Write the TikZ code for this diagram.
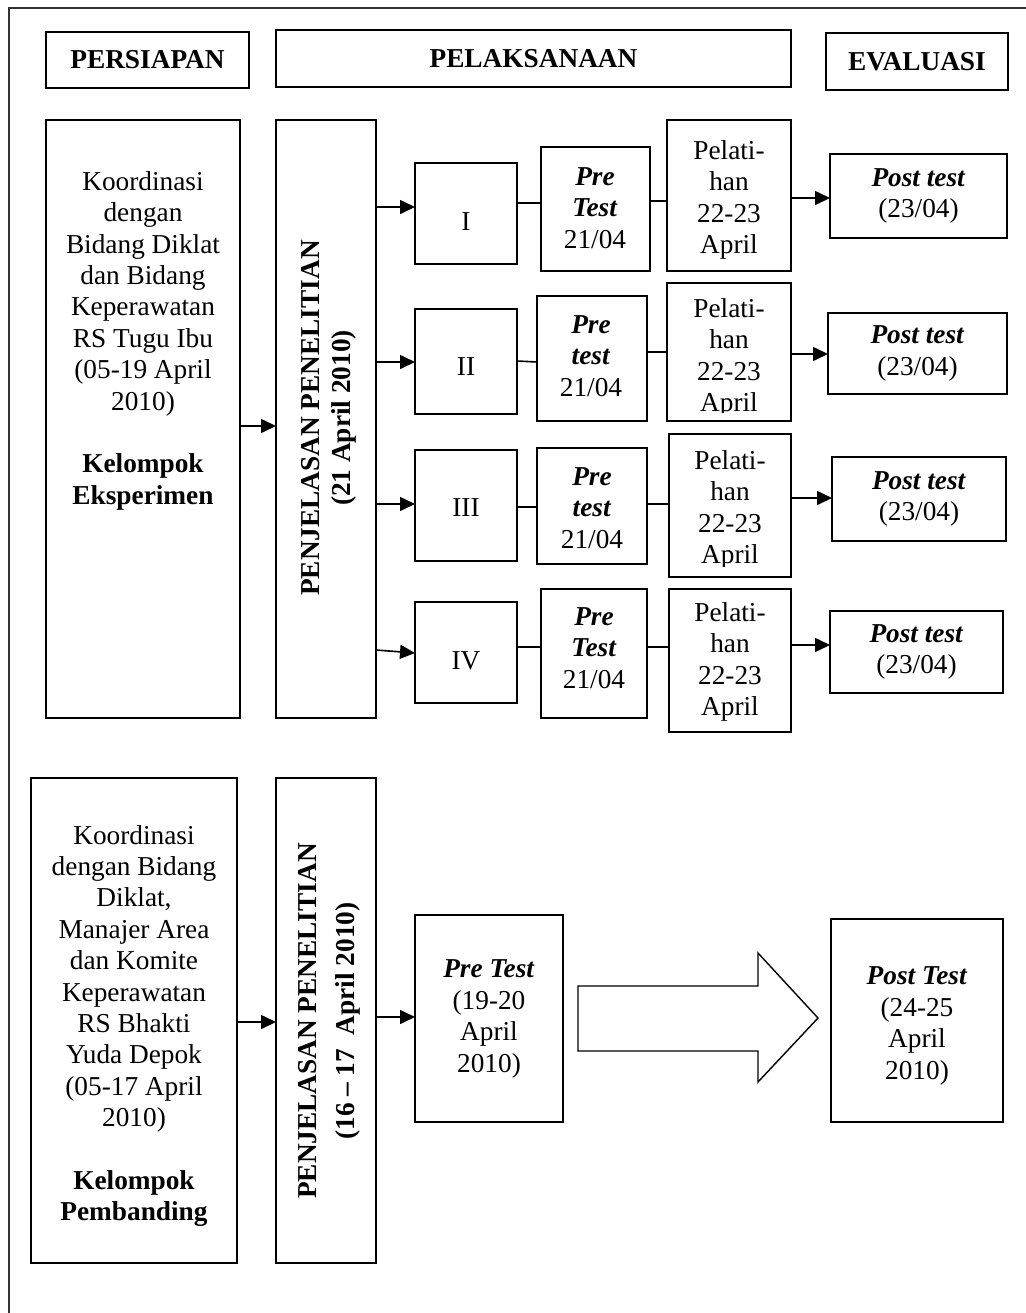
\documentclass[tikz,border=0pt]{standalone}
\usepackage{fontspec}
\setmainfont{Liberation Serif}
\usetikzlibrary{arrows.meta}
\newcommand\fs{\fontsize{13.65pt}{15.7pt}\selectfont}
\newcommand\bi[1]{\textbf{\textit{#1}}}
\newcommand\mkbox[6]{\node[box,minimum width={(#4-#2)*0.5pt},minimum height={(#5-#3)*0.5pt}] (#1) at ({(#2+#4)/2},{(#3+#5)/2}) {#6};}
\begin{document}
\begin{tikzpicture}[x=0.5pt,y=-0.5pt,
  box/.style={draw,line width=0.8pt,inner sep=0pt,outer sep=0pt,font=\fs,align=center},
  txt/.style={font=\fs,align=center,inner sep=0pt},
  arr/.style={line width=0.8pt,-{Triangle[length=7.5pt,width=7pt]}},
  ln/.style={line width=0.8pt}]
\useasboundingbox (0,0) rectangle (1026,1313);
% outer frame
\draw[line width=0.8pt,black!80] (9,1340) -- (9,8) -- (1050,8);
% headers
\mkbox{hp}{46}{32}{249}{88}{\bfseries PERSIAPAN}
\mkbox{hl}{276}{30}{791}{87}{\bfseries PELAKSANAAN}
\mkbox{he}{826}{33}{1008}{90}{\bfseries EVALUASI}
% ---------- top group ----------
\mkbox{k1}{46}{120}{240}{718}{}
\node[txt,anchor=north] (k1t) at (143,171) {Koordinasi\\dengan\\Bidang Diklat\\dan Bidang\\Keperawatan\\RS Tugu Ibu\\(05-19 April\\2010)\\[15.7pt]\textbf{Kelompok}\\\textbf{Eksperimen}};
\mkbox{pj1}{276}{120}{376}{718}{}
\node[txt,rotate=90,font=\fs\bfseries] (pj1t) at (329,418) {PENJELASAN PENELITIAN\\(21 April 2010)};
\draw[arr] (k1.east |- 0,426) -- (pj1.west |- 0,426);
% roman boxes
\mkbox{r1}{415}{163}{517}{264}{}
\mkbox{r2}{415}{309}{517}{414}{}
\mkbox{r3}{415}{450}{517}{561}{}
\mkbox{r4}{415}{602}{517}{703}{}
\node[txt] (r1t) at (466,222) {I};
\node[txt] (r2t) at (466,367) {II};
\node[txt] (r3t) at (466,508) {III};
\node[txt] (r4t) at (466,661) {IV};
% pre test boxes
\mkbox{p1}{541}{147}{650}{271}{}
\mkbox{p2}{537}{296}{647}{421}{}
\mkbox{p3}{537}{448}{647}{564}{}
\mkbox{p4}{541}{589}{647}{718}{}
\node[txt] (p1t) at (595,208) {\bi{Pre}\\\bi{Test}\\21/04};
\node[txt] (p2t) at (591,356) {\bi{Pre}\\\bi{test}\\21/04};
\node[txt] (p3t) at (592,508) {\bi{Pre}\\\bi{test}\\21/04};
\node[txt] (p4t) at (594,648) {\bi{Pre}\\\bi{Test}\\21/04};
% pelatihan boxes
\mkbox{l1}{667}{120}{791}{271}{}
\mkbox{l2}{667}{283}{791}{421}{}
\mkbox{l3}{669}{434}{791}{577}{}
\mkbox{l4}{669}{589}{791}{732}{}
\node[txt] (l1t) at (729,200) {Pelati-\\han\\22-23\\April};
\begin{scope}
\clip (667,283) rectangle (791,412);
\node[txt] (l2t) at (729,358) {Pelati-\\han\\22-23\\April};
\end{scope}
\begin{scope}
\clip (669,434) rectangle (791,566);
\node[txt] (l3t) at (730,510) {Pelati-\\han\\22-23\\April};
\end{scope}
\begin{scope}
\clip (669,589) rectangle (791,721);
\node[txt] (l4t) at (730,662) {Pelati-\\han\\22-23\\April};
\end{scope}
% post test boxes
\mkbox{o1}{830}{154}{1007}{238}{\bi{Post test}\\(23/04)}
\mkbox{o2}{828}{313}{1007}{394}{\bi{Post test}\\(23/04)}
\mkbox{o3}{832}{457}{1006}{541}{\bi{Post test}\\(23/04)}
\mkbox{o4}{830}{611}{1003}{693}{\bi{Post test}\\(23/04)}
% connectors top
\draw[arr] (pj1.east |- 0,207) -- (r1.west |- 0,207);
\draw[arr] (pj1.east |- 0,362) -- (r2.west |- 0,362);
\draw[arr] (pj1.east |- 0,504) -- (r3.west |- 0,504);
\draw[arr] (pj1.east |- 0,650) -- (r4.west |- 0,653);
\draw[ln] (r1.east |- 0,203) -- (p1.west |- 0,203);
\draw[ln] (r2.east |- 0,361) -- (p2.west |- 0,362);
\draw[ln] (r3.east |- 0,507) -- (p3.west |- 0,507);
\draw[ln] (r4.east |- 0,647) -- (p4.west |- 0,647);
\draw[ln] (p1.east |- 0,201) -- (l1.west |- 0,201);
\draw[ln] (p2.east |- 0,352) -- (l2.west |- 0,352);
\draw[ln] (p3.east |- 0,504) -- (l3.west |- 0,504);
\draw[ln] (p4.east |- 0,647) -- (l4.west |- 0,647);
\draw[arr] (l1.east |- 0,198) -- (o1.west |- 0,198);
\draw[arr] (l2.east |- 0,354) -- (o2.west |- 0,354);
\draw[arr] (l3.east |- 0,498) -- (o3.west |- 0,498);
\draw[arr] (l4.east |- 0,645) -- (o4.west |- 0,645);
% ---------- bottom group ----------
\mkbox{k2}{31}{778}{237}{1263}{}
\node[txt] (k2t) at (134,1026) {Koordinasi\\dengan Bidang\\Diklat,\\Manajer Area\\dan Komite\\Keperawatan\\RS Bhakti\\Yuda Depok\\(05-17 April\\2010)\\[15.7pt]\textbf{Kelompok}\\\textbf{Pembanding}};
\mkbox{pj2}{276}{778}{376}{1263}{}
\node[txt,rotate=90,font=\fontsize{13.65pt}{19pt}\selectfont\bfseries] (pj2t) at (329,1021) {PENJELASAN PENELITIAN\\(16 – 17~~April 2010)};
\mkbox{pre2}{415}{915}{563}{1122}{}
\node[txt] (pre2t) at (489,1019) {\bi{Pre Test}\\(19-20\\April\\2010)};
\mkbox{post2}{831}{919}{1003}{1122}{}
\node[txt] (post2t) at (917,1026) {\bi{Post Test}\\(24-25\\April\\2010)};
\draw[arr] (k2.east |- 0,1022) -- (pj2.west |- 0,1022);
\draw[arr] (pj2.east |- 0,1017) -- (pre2.west |- 0,1017);
% big block arrow
\draw[line width=0.7pt] (578,986) -- (758,986) -- (758,953) -- (818,1018) -- (758,1082) -- (758,1051) -- (578,1051) -- cycle;
\end{tikzpicture}
\end{document}
